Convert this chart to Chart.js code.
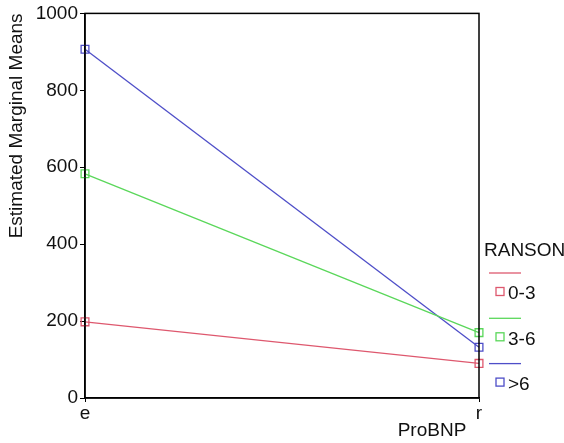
<!DOCTYPE html>
<html>
<head>
<meta charset="utf-8">
<script src="https://cdn.jsdelivr.net/npm/chart.js@4"></script>
<style>
  html, body { margin: 0; padding: 0; background: #fff; }
  #wrap { width: 564px; height: 443px; position: relative; }
</style>
</head>
<body>
<div id="wrap"><canvas id="means"></canvas></div>
<script>
// data
var categories = ["e", "r"];
var groups = ["0-3", "3-6", ">6"];
var group03 = [198, 90];
var group36 = [583, 170];
var group6 = [907, 132];
var yTicks = [0, 200, 400, 600, 800, 1000];

var colors = ["rgb(222,88,110)", "rgb(90,215,90)", "rgb(78,78,200)"];
var fontFamily = "'Liberation Sans', Arial, Helvetica, sans-serif";
var fontSize = 19;

// box round the plot area
var boxPlugin = {
    id: 'box',
    afterDraw: function (chart) {
        var a = chart.chartArea, ctx = chart.ctx;
        ctx.save();
        ctx.strokeStyle = '#000';
        ctx.lineWidth = 1.5;
        ctx.strokeRect(a.left, a.top, a.right - a.left, a.bottom - a.top);
        ctx.restore();
    }
};

// SPSS style legend + x title
var sideLegend = {
    id: 'sideLegend',
    afterDraw: function (chart) {
        var a = chart.chartArea, ctx = chart.ctx;
        var x0 = a.right + 5;
        ctx.save();
        ctx.font = fontSize + 'px ' + fontFamily;
        ctx.fillStyle = '#111';
        ctx.textBaseline = 'middle';
        ctx.textAlign = 'left';
        ctx.fillText('RANSON', x0, 251);

        chart.data.datasets.forEach(function (ds, i) {
            var ly = 273 + 45.3 * i;
            ctx.strokeStyle = ds.borderColor;
            ctx.lineWidth = 1.3;
            ctx.beginPath();
            ctx.moveTo(x0 + 5, ly);
            ctx.lineTo(x0 + 37, ly);
            ctx.stroke();
            var my = ly + 18.5;
            ctx.strokeRect(x0 + 12, my - 4, 8, 8);
            ctx.fillStyle = '#111';
            ctx.fillText(ds.label, x0 + 24, my + 2.5);
        });

        ctx.textAlign = 'center';
        ctx.fillText('ProBNP', a.right - 47, 431);
        ctx.restore();
    }
};

function makeSet(label, values, color) {
    return {
        label: label,
        data: values,
        borderColor: color,
        backgroundColor: 'rgba(0,0,0,0)',
        borderWidth: 1.3,
        pointStyle: 'rect',
        pointRadius: 5.5,
        pointBorderWidth: 1.3,
        pointBackgroundColor: 'rgba(0,0,0,0)',
        pointBorderColor: color,
        tension: 0
    };
}

var ctx = document.getElementById("means").getContext('2d');
var myChart = new Chart(ctx, {
    type: 'line',
    data: {
        labels: categories,
        datasets: [
            makeSet(groups[0], group03, colors[0]),
            makeSet(groups[1], group36, colors[1]),
            makeSet(groups[2], group6, colors[2])
        ]
    },
    options: {
        responsive: true,
        maintainAspectRatio: false,
        animation: false,
        devicePixelRatio: 1,
        layout: { padding: { top: 13, right: 85, left: 0, bottom: 0 } },
        plugins: {
            legend: { display: false },
            tooltip: { enabled: false }
        },
        scales: {
            x: {
                offset: false,
                grid: { drawOnChartArea: false, drawTicks: true, tickLength: 4, color: '#000' },
                border: { color: '#000', width: 1.5 },
                ticks: { color: '#111', padding: 0, font: { size: fontSize, family: fontFamily } },
                afterFit: function (s) { s.height = 45; }
            },
            y: {
                min: 0,
                max: 1000,
                afterBuildTicks: function (s) {
                    s.ticks = yTicks.map(function (v) { return { value: v }; });
                },
                grid: { drawOnChartArea: false, drawTicks: true, tickLength: 5, color: '#000' },
                border: { color: '#000', width: 1.5 },
                ticks: {
                    color: '#111',
                    padding: 2,
                    font: { size: fontSize, family: fontFamily },
                    callback: function (v) { return String(v); }
                },
                title: {
                    display: true,
                    text: 'Estimated Marginal Means',
                    align: 'end',
                    color: '#111',
                    padding: { top: 5, bottom: 0 },
                    font: { size: fontSize, family: fontFamily }
                },
                afterFit: function (s) { s.width = 85; }
            }
        }
    },
    plugins: [boxPlugin, sideLegend]
});
</script>
</body>
</html>
